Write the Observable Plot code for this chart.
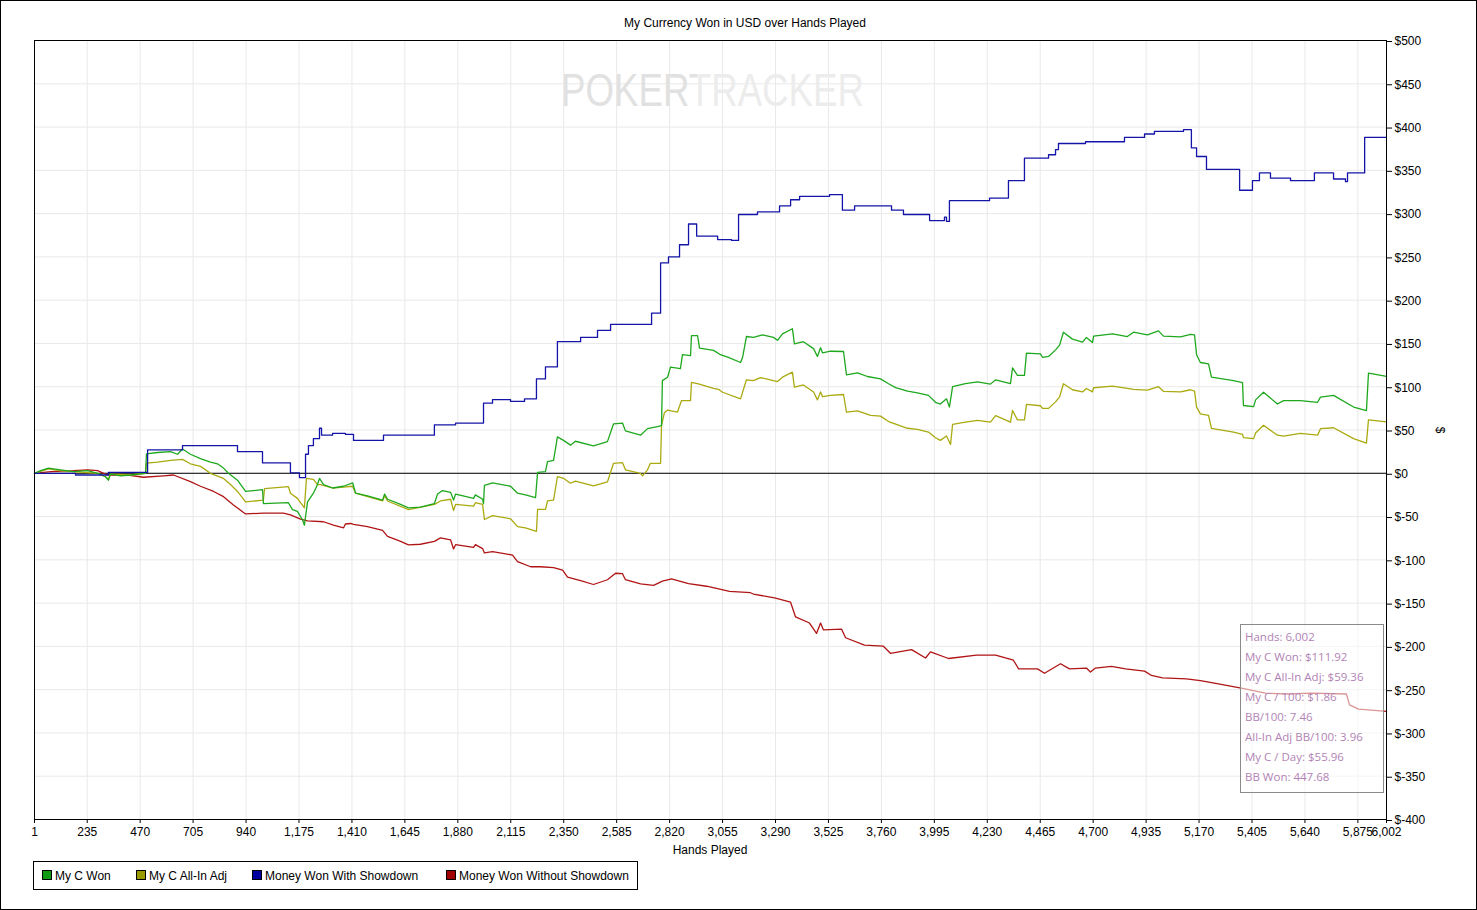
<!DOCTYPE html>
<html>
<head>
<meta charset="utf-8">
<script src="https://cdn.jsdelivr.net/npm/d3@7"></script>
<script src="https://cdn.jsdelivr.net/npm/@observablehq/plot@0.6"></script>
<style>
  html, body { margin: 0; padding: 0; background: #fff; }
  #chart svg { display: block; }
</style>
</head>
<body>
<div id="chart"></div>
<script>
// ---------- tick labels ----------
const xTicks = [1, 235, 470, 705, 940, 1175, 1410, 1645, 1880, 2115, 2350, 2585, 2820, 3055, 3290, 3525, 3760, 3995, 4230, 4465, 4700, 4935, 5170, 5405, 5640, 5875, 6002];
const yTicks = [-400, -350, -300, -250, -200, -150, -100, -50, 0, 50, 100, 150, 200, 250, 300, 350, 400, 450, 500];

// ---------- series: My C Won ----------
const wonHands = [1,28,63,116,174,236,281,316,329,338,383,427,494,498,547,605,636,658,693,738,782,813,840,862,902,938,1013,1017,1128,1146,1168,1191,1199,1213,1239,1257,1266,1284,1324,1373,1413,1426,1479,1546,1555,1568,1626,1661,1714,1776,1790,1812,1848,1861,1870,1950,1958,1990,1994,1998,2034,2114,2145,2180,2225,2234,2269,2278,2305,2322,2349,2380,2402,2482,2544,2571,2611,2624,2691,2722,2766,2784,2788,2811,2824,2868,2877,2913,2917,2944,2953,3015,3046,3081,3135,3144,3161,3192,3232,3281,3299,3321,3365,3374,3414,3459,3476,3490,3499,3534,3592,3605,3654,3698,3756,3792,3823,3876,3920,3969,4000,4022,4049,4062,4076,4133,4187,4244,4267,4333,4342,4364,4395,4404,4466,4475,4502,4533,4551,4568,4608,4653,4670,4697,4702,4786,4852,4879,4941,4990,5012,5088,5132,5150,5159,5176,5212,5225,5323,5363,5367,5412,5421,5456,5518,5545,5620,5696,5709,5767,5856,5913,5922,6002];
const wonValues = [0,3,6,4,2,3,0,-4,-8,-1,-3,-2,0,22.5,24,25,22,28,22,17,13,11,6,0,-8,-21,-19,-35,-34,-42,-44,-54,-60,-33,-23,-13,-6,-13,-17,-15,-11,-23,-26,-31,-24,-30,-36,-40,-39,-35,-24,-20,-22,-31,-24,-29,-25,-30,-35,-14,-11,-15,-23,-25,-28,1,2,13.5,15,42,38,32.5,37,31.6,36.6,57,58,49,44,51.6,54,55,107,111,122.6,121,137,136,159,159,144.5,142,137,134,128,134,158,157,160,157,153.6,161,167,149.6,152,144,135,145,139,141,140.7,113.8,116,111.8,109,103.4,99,95,93,90,82,80,86,76.4,100,103.5,105.5,103,108,103.5,121.8,113,113,138.8,138,134,135,142.6,148,163,155,151.5,157,151,158.5,161,158,163,160,164.5,158.5,157.7,160.6,160,137,128,126.5,111,107,104.6,78.3,77,84.8,93.6,80,84,84,82,88,90,76.5,72.5,115.7,111.92];

// ---------- series: My C All-In Adj ----------
const adjHands = [1,63,116,174,281,316,329,338,427,494,498,547,605,658,693,738,782,840,871,902,938,1017,1022,1128,1137,1168,1199,1208,1239,1257,1270,1324,1373,1413,1426,1546,1555,1568,1661,1776,1803,1848,1861,1870,1950,1958,1990,1998,2034,2114,2145,2180,2229,2234,2269,2278,2305,2322,2349,2380,2402,2482,2544,2571,2611,2624,2691,2700,2722,2735,2780,2784,2797,2811,2855,2873,2913,2917,2948,3015,3037,3055,3135,3161,3192,3223,3299,3321,3365,3374,3414,3459,3476,3490,3499,3534,3592,3605,3654,3712,3756,3792,3876,3920,3969,4000,4022,4049,4067,4076,4133,4187,4244,4267,4333,4342,4364,4395,4404,4466,4475,4502,4533,4551,4568,4608,4653,4670,4697,4702,4786,4852,4879,4941,4990,5012,5088,5132,5150,5159,5176,5212,5225,5323,5363,5367,5412,5421,5456,5518,5545,5620,5696,5709,5767,5856,5913,5922,6002];
const adjValues = [0,5,3,2,0,-4,-7,-1,-2,0,11.7,13,15,16,11,8,0,-6,-13,-21,-33,-31,-17.7,-15.4,-23,-29,-40,-6,-7,-13,-13,-17,-16,-15,-23,-32,-26,-32,-42,-36,-32,-30,-43,-36,-38,-34,-36,-53.4,-49,-52.6,-61.6,-63,-67,-41.8,-41.8,-32,-31,-4,-5.8,-11.5,-9,-14.6,-10,11.5,12.3,4,0,-3,4,11.5,11.5,55,70,73,70.7,84,84,105,103.4,98,97,93.6,86,108,107,110.6,106,111,116.8,99.6,102,94,84.8,94,88.5,90,91,70.6,72,66.8,66,59.8,52,50.7,47.6,41,38,43,33.3,56.4,59,61,59,66.5,59,72.5,61.7,61.7,79.5,78,75,75,82.5,88.3,103.4,96.5,94,98,94,98.8,100.7,98,97,96,100,94.7,94,96.5,95,76.4,68.7,66.8,52,47.6,45,41.2,40,46.6,55.4,44,43,46,44,51.5,52.6,40,34.8,61.8,59.36];

// ---------- series: Money Won With Showdown ----------
const sdHands = [1,183,329,503,658,902,1013,1137,1177,1204,1217,1239,1266,1275,1324,1381,1417,1550,1776,1870,1994,2034,2114,2176,2229,2269,2322,2425,2500,2558,2740,2780,2815,2864,2904,2940,3033,3095,3126,3210,3308,3357,3397,3530,3587,3641,3805,3858,3974,4040,4049,4062,4240,4324,4395,4502,4533,4546,4666,4839,4928,4972,5101,5136,5159,5203,5350,5407,5438,5487,5576,5682,5767,5820,5829,5905,6002];
const sdValues = [0,-2,1,27,32,25,12,0.5,-5,22,32,40,52,44,46,45,38,44,56,58,81,85,83,86,109,123,152,157,165,172,185,243,250,264,288,274,270,269,299,302,309,316,320,322,304,309,304,299,292,296,291,315,318,338,364,368,374,381,383,388,392,395,397,376,366,351,327,338,347,341,338,347,340,337,347,388,388];

// ---------- series: Money Won Without Showdown ----------
const nsdHands = [1,72,174,236,281,325,414,485,574,618,693,738,796,840,884,938,1017,1106,1137,1182,1213,1284,1328,1373,1381,1404,1417,1479,1546,1568,1626,1661,1714,1776,1803,1848,1861,1870,1950,1958,1990,1998,2034,2123,2145,2203,2247,2305,2345,2367,2425,2482,2544,2580,2611,2624,2691,2749,2788,2828,2904,2984,3086,3179,3192,3286,3357,3379,3441,3472,3490,3503,3583,3601,3685,3769,3800,3894,3956,3978,4058,4182,4267,4346,4369,4453,4484,4555,4595,4670,4688,4710,4781,4844,4928,4959,5008,5114,5176,5256,5363,5465,5567,5669,5824,5838,5878,6002];
const nsdValues = [0,2,3,4,3,-2,-2,-4.6,-3,-2,-9.6,-15,-21,-27,-36.6,-47,-46,-46,-48,-53,-55,-56,-60,-63,-58.6,-58,-59,-61.6,-66,-73,-78.6,-82.8,-82,-78.6,-74.7,-77,-87.4,-82.5,-85.6,-82.5,-87,-92,-90.5,-94.5,-102,-108,-108,-109,-112,-120,-124,-128.5,-123,-115.5,-116,-123,-127.7,-129.6,-124.6,-122,-127.4,-130.5,-136.4,-138,-139.5,-144,-149,-166,-173,-185,-173,-181,-180,-190,-198.6,-199.8,-208,-203.7,-213.4,-206.4,-214,-210,-210,-216,-225.9,-226,-231,-220,-226,-225,-229.7,-225,-223,-226,-228.6,-233.6,-236.4,-237.5,-239.5,-243.4,-248.4,-254,-255,-254,-255,-267.5,-272.5,-275];

// ---------- legend / info texts ----------
const seriesNames = ["My C Won", "My C All-In Adj", "Money Won With Showdown", "Money Won Without Showdown"];
const lineColors = ["#1ea81e", "#aaaa10", "#1414a8", "#b01414"];
const swatchColors = ["#119911", "#999900", "#0000a0", "#a00000"];
const infoLines = ["Hands: 6,002", "My C Won: $111.92", "My C All-In Adj: $59.36", "My C / 100: $1.86", "BB/100: 7.46", "All-In Adj BB/100: 3.96", "My C / Day: $55.96", "BB Won: 447.68"];
const titleText = "My Currency Won in USD over Hands Played";
const watermarkText = "POKERTRACKER";

const toRows = (hs, vs) => hs.map((h, i) => ({h, v: vs[i]}));
const won = toRows(wonHands, wonValues);
const adj = toRows(adjHands, adjValues);
const sd = toRows(sdHands, sdValues);
const nsd = toRows(nsdHands, nsdValues);

const W = 1477, H = 910;
const mL = 34, mR = 91, mT = 40, mB = 91;
const FONT = "'Liberation Sans', Arial, sans-serif";

const plot = Plot.plot({
  width: W, height: H,
  marginLeft: mL, marginRight: mR, marginTop: mT, marginBottom: mB,
  style: {fontFamily: FONT, fontSize: "12px", background: "#fff", color: "#000"},
  x: {type: "linear", domain: [1, 6002]},
  y: {type: "linear", domain: [-400, 500]},
  marks: [
    Plot.gridX(xTicks, {stroke: "#e9e9e9", strokeOpacity: 1}),
    Plot.gridY(yTicks, {stroke: "#e9e9e9", strokeOpacity: 1}),
    Plot.ruleY([0], {stroke: "#000", strokeWidth: 1}),
    Plot.line(nsd, {x: "h", y: "v", stroke: lineColors[3], strokeWidth: 1.3}),
    Plot.line(adj, {x: "h", y: "v", stroke: lineColors[1], strokeWidth: 1.3}),
    Plot.line(won, {x: "h", y: "v", stroke: lineColors[0], strokeWidth: 1.3}),
    Plot.line(sd, {x: "h", y: "v", stroke: lineColors[2], strokeWidth: 1.3, curve: "step-after"}),
    Plot.frame({stroke: "#000", strokeWidth: 1}),
    Plot.axisX(xTicks, {anchor: "bottom", tickSize: 4, tickPadding: 4, label: null, tickFormat: d3.format(","), fontSize: 12}),
    Plot.axisY(yTicks, {anchor: "right", tickSize: 5, tickPadding: 3, label: null, tickFormat: d => "$" + d, fontSize: 12, dy: 1})
  ]
});

document.getElementById("chart").appendChild(plot);
const svg = d3.select(plot);

// watermark behind the lines: one text, two shades via a hard-stop gradient
const defs = svg.append("defs");
const grad = defs.append("linearGradient").attr("id", "wmgrad")
  .attr("gradientUnits", "userSpaceOnUse").attr("x1", 561).attr("x2", 864).attr("y1", 0).attr("y2", 0);
grad.append("stop").attr("offset", 0.45).attr("stop-color", "#e1e1e1");
grad.append("stop").attr("offset", 0.45).attr("stop-color", "#ececec");
const firstLine = plot.querySelector("g[aria-label='line']");
const wm = d3.select(plot.insertBefore(document.createElementNS("http://www.w3.org/2000/svg", "g"), firstLine));
wm.append("text").attr("x", 561).attr("y", 106).attr("font-size", 46)
  .attr("text-anchor", "start").attr("font-family", FONT)
  .attr("textLength", 303).attr("lengthAdjust", "spacingAndGlyphs")
  .attr("fill", "url(#wmgrad)").text(watermarkText);

// outer border
svg.append("rect").attr("x", 0.5).attr("y", 0.5).attr("width", W - 1).attr("height", H - 1)
  .attr("fill", "none").attr("stroke", "#000");

// title
svg.append("text").attr("x", 745).attr("y", 27).attr("text-anchor", "middle")
  .attr("font-size", 12).attr("font-family", FONT).text(titleText);

// axis titles
svg.append("text").attr("x", 710).attr("y", 854).attr("text-anchor", "middle")
  .attr("font-size", 12).attr("font-family", FONT).text("Hands Played");
svg.append("text").attr("transform", "translate(1436,430) rotate(90)").attr("text-anchor", "middle")
  .attr("font-size", 12).attr("font-family", FONT).text("$");

// info box
const info = svg.append("g");
info.append("rect").attr("x", 1240.5).attr("y", 624.5).attr("width", 143).attr("height", 168)
  .attr("fill", "#fff").attr("fill-opacity", 0.55).attr("stroke", "#8a8a8a");
infoLines.forEach((t, i) => {
  info.append("text").attr("x", 1245).attr("y", 641 + i * 20).attr("text-anchor", "start")
    .attr("font-size", 11.5).attr("font-family", "'Open Sans', 'Noto Sans', sans-serif")
    .attr("fill", "#b283b5").text(t);
});

// legend
const leg = svg.append("g");
leg.append("rect").attr("x", 33.5).attr("y", 861.5).attr("width", 604).attr("height", 28)
  .attr("fill", "#fff").attr("stroke", "#000");
const swX = [42, 136, 252, 446];
seriesNames.forEach((n, i) => {
  leg.append("rect").attr("x", swX[i] + 0.5).attr("y", 870.5).attr("width", 9).attr("height", 9)
    .attr("fill", swatchColors[i]).attr("stroke", "#000").attr("stroke-width", 1);
  leg.append("text").attr("x", swX[i] + 13).attr("y", 880).attr("text-anchor", "start")
    .attr("font-size", 12).attr("font-family", FONT).text(n);
});
</script>
</body>
</html>
